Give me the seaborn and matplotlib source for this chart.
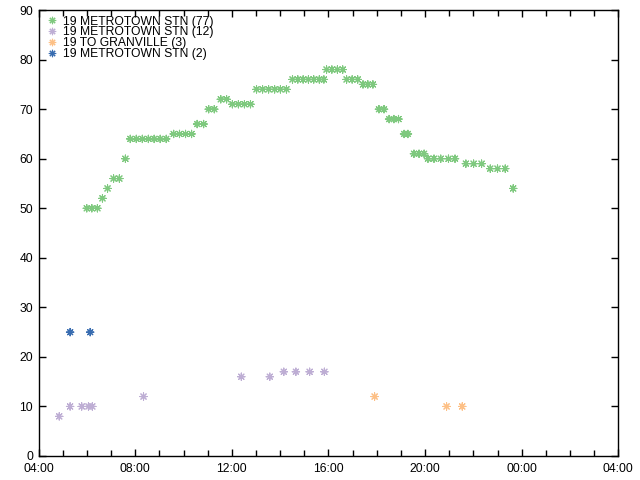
import numpy as np
import pandas as pd
import matplotlib
matplotlib.use('Agg')
import matplotlib.pyplot as plt
import seaborn as sns

# Data (hours since midnight, >24 = next day)
green_name = '19 METROTOWN STN (77)'
green_hours = [5.99, 6.20, 6.43, 6.64, 6.85, 7.10, 7.34, 7.59,
               7.79, 8.04, 8.29, 8.54, 8.78, 9.03, 9.28,
               9.59, 9.83, 10.08, 10.33, 10.56, 10.83, 11.04, 11.27,
               11.54, 11.78, 12.02, 12.27, 12.52, 12.77,
               13.02, 13.27, 13.52, 13.77, 14.01, 14.26,
               14.51, 14.73, 14.95, 15.17, 15.39, 15.62, 15.81,
               15.92, 16.14, 16.37, 16.59, 16.75, 16.98, 17.21,
               17.43, 17.63, 17.84, 18.09, 18.30, 18.51, 18.71, 18.90,
               19.13, 19.29, 19.54, 19.75, 19.96,
               20.12, 20.37, 20.65, 20.97, 21.24,
               21.69, 22.01, 22.34, 22.70, 23.00, 23.32, 23.65]
green_vals = [50, 50, 50, 52, 54, 56, 56, 60,
              64, 64, 64, 64, 64, 64, 64,
              65, 65, 65, 65, 67, 67, 70, 70,
              72, 72, 71, 71, 71, 71,
              74, 74, 74, 74, 74, 74,
              76, 76, 76, 76, 76, 76, 76,
              78, 78, 78, 78, 76, 76, 76,
              75, 75, 75, 70, 70, 68, 68, 68,
              65, 65, 61, 61, 61,
              60, 60, 60, 60, 60,
              59, 59, 59, 58, 58, 58, 54]

purple_name = '19 METROTOWN STN (12)'
purple_hours = [4.85, 5.30, 5.78, 6.06, 6.22, 8.34, 12.39, 13.57, 14.15, 14.65, 15.22, 15.83]
purple_vals = [8, 10, 10, 10, 10, 12, 16, 16, 17, 17, 17, 17]

orange_name = '19 TO GRANVILLE (3)'
orange_hours = [17.91, 20.89, 21.54]
orange_vals = [12, 10, 10]

blue_name = '19 METROTOWN STN (2)'
blue_hours = [5.30, 6.13]
blue_vals = [25, 25]

tick_hours = [4, 8, 12, 16, 20, 24, 28]
tick_labels = ['04:00', '08:00', '12:00', '16:00', '20:00', '00:00', '04:00']

names = [green_name, purple_name, orange_name, blue_name]
colors = ['#7fc97f', '#beaed4', '#fdc086', '#386cb0']

df = pd.concat([
    pd.DataFrame({'hour': green_hours, 'value': green_vals, 'route': green_name}),
    pd.DataFrame({'hour': purple_hours, 'value': purple_vals, 'route': purple_name}),
    pd.DataFrame({'hour': orange_hours, 'value': orange_vals, 'route': orange_name}),
    pd.DataFrame({'hour': blue_hours, 'value': blue_vals, 'route': blue_name}),
], ignore_index=True)

sns.set_style("ticks", {'text.color': 'black', 'xtick.color': 'black',
                        'ytick.color': 'black', 'axes.edgecolor': 'black'})
plt.rcParams['font.family'] = ['Liberation Sans', 'DejaVu Sans']

fig = plt.figure(figsize=(6.4, 4.8), dpi=100)
ax = fig.add_axes([0.0605, 0.05, 0.9055, 0.929])

sns.scatterplot(data=df, x='hour', y='value', hue='route', hue_order=names,
                palette=colors, marker=(8, 2, 0), s=28, linewidth=0.8, ax=ax)

ax.set_xlim(4, 28)
ax.set_ylim(0, 90)
ax.set_xticks(tick_hours)
ax.set_xticklabels(tick_labels)
ax.set_xticks(np.arange(4, 29, 1), minor=True)
ax.set_yticks(np.arange(0, 91, 10))
ax.set_xlabel('')
ax.set_ylabel('')
ax.tick_params(which='both', direction='in', top=True, right=True,
               labelsize=8.7, color='black', labelcolor='black', width=1)
ax.tick_params(axis='x', pad=5)
ax.tick_params(axis='y', pad=4)
ax.tick_params(which='major', length=5)
ax.tick_params(which='minor', length=4)
for sp in ax.spines.values():
    sp.set_color('black')
    sp.set_linewidth(1)

sns.move_legend(ax, 'upper left', title=None, frameon=False, fontsize=8.7,
                labelspacing=-0.1, handletextpad=0.3, borderaxespad=0.05,
                handlelength=1.3, markerscale=1.0, labelcolor='black')

fig.savefig('out.png', dpi=100)
